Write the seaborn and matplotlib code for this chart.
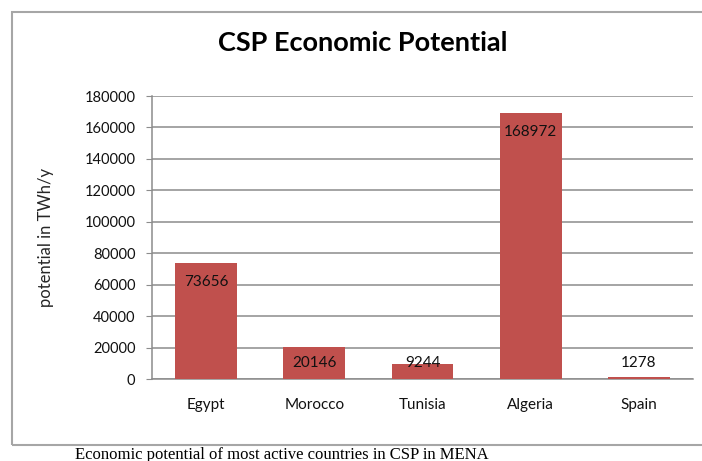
import pandas as pd
import matplotlib
matplotlib.use("Agg")
import matplotlib.pyplot as plt
import seaborn as sns
from matplotlib.patches import Rectangle

countries = ['Egypt', 'Morocco', 'Tunisia', 'Algeria', 'Spain']
potential = [73656, 20146, 9244, 168972, 1278]
yticks = list(range(0, 180001, 20000))

df = pd.DataFrame({'country': countries, 'potential': potential})

sns.set_style('white')
plt.rcParams['font.family'] = ['Lato', 'DejaVu Sans']

fig = plt.figure(figsize=(7.02, 4.61), dpi=100)
ax = fig.add_axes([152 / 702, 1 - 379 / 461, (693 - 152) / 702, (379 - 96) / 461])

sns.barplot(data=df, x='country', y='potential', color='#C0504D', saturation=1,
            width=0.57, ax=ax, zorder=3, linewidth=0)

ax.set_ylim(0, 180000)
ax.set_yticks(yticks)
ax.set_yticklabels([str(v) for v in yticks], fontsize=10.5, color='#111111')
ax.set_xlim(-0.5, len(countries) - 0.5)
ax.grid(axis='y', color='#8c8c8c', linewidth=1.1, zorder=0)
ax.set_axisbelow(True)
for s in ['top', 'right']:
    ax.spines[s].set_visible(False)
for s in ['left', 'bottom']:
    ax.spines[s].set_color('#8c8c8c')
    ax.spines[s].set_linewidth(1.1)
ax.tick_params(axis='y', length=4, color='#8c8c8c', pad=8, left=True)
ax.tick_params(axis='x', length=0, pad=14, labelsize=11, labelcolor='#111111')
ax.set_xlabel('')
ax.set_ylabel('potential in TWh/y', fontsize=12, labelpad=22)

# value labels (inside end, kept clear of the base)
for i, v in enumerate(potential):
    ax.text(i, max(v - 12000, 10200), str(v), ha='center', va='center',
            fontsize=11, color='#111111', zorder=4)

fig.text(363 / 702, 1 - 43 / 461, 'CSP Economic Potential', ha='center', va='center',
         fontsize=19.5, fontweight='bold', color='black')

# outer chart frame
fig.patches.append(Rectangle((12 / 702, 1 - 445 / 461), 1.0, (445 - 12) / 461,
                             transform=fig.transFigure, fill=False,
                             edgecolor='#a6a6a6', linewidth=1.5))

fig.text(75 / 702, 1 - 447 / 461, 'Economic potential of most active countries in CSP in MENA',
         ha='left', va='top', fontsize=12, family='Liberation Serif', color='black')

fig.savefig('out.png', dpi=100)
